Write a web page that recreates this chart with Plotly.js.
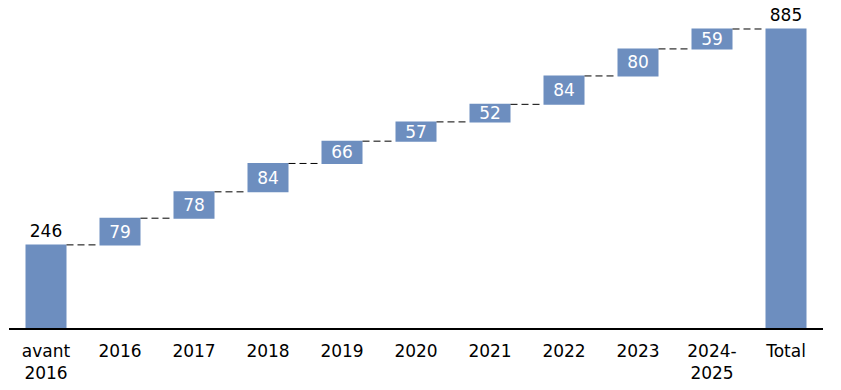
<!DOCTYPE html>
<html>
<head>
<meta charset="utf-8">
<script src="https://cdn.plot.ly/plotly-3.0.1.min.js"></script>
<style>html,body{margin:0;padding:0;background:#fff;}#chart{width:841px;height:390px;}</style>
</head>
<body>
<div id="chart"></div>
<script>
const categories = ["avant<br>2016", "2016", "2017", "2018", "2019", "2020", "2021", "2022", "2023", "2024-<br>2025", "Total"];
const values = [246, 79, 78, 84, 66, 57, 52, 84, 80, 59, 0];
const measures = ["relative", "relative", "relative", "relative", "relative", "relative", "relative", "relative", "relative", "relative", "total"];
const labels = ["246", "79", "78", "84", "66", "57", "52", "84", "80", "59", "885"];
const labelPositions = ["outside", "inside", "inside", "inside", "inside", "inside", "inside", "inside", "inside", "inside", "outside"];

const barColor = "#6d8ebf";
const fontFam = "DejaVu Sans, Liberation Sans, sans-serif";

const trace = {
  type: "waterfall",
  x: categories,
  y: values,
  measure: measures,
  text: labels,
  textposition: labelPositions,
  textinfo: "text",
  textangle: 0,
  constraintext: "none",
  cliponaxis: false,
  insidetextanchor: "middle",
  insidetextfont: {color: "#ffffff", size: 17, family: fontFam},
  outsidetextfont: {color: "#000000", size: 17, family: fontFam},
  increasing: {marker: {color: barColor}},
  decreasing: {marker: {color: barColor}},
  totals: {marker: {color: barColor}},
  connector: {line: {color: "#000000", width: 1, dash: "7px,4px"}},
  hoverinfo: "none"
};

const layout = {
  width: 841,
  height: 390,
  margin: {l: 9, r: 18, t: 10, b: 62},
  paper_bgcolor: "#ffffff",
  plot_bgcolor: "#ffffff",
  showlegend: false,
  waterfallgap: 0.446,
  font: {family: fontFam, size: 17, color: "#000000"},
  xaxis: {
    type: "category",
    showline: true,
    linecolor: "#000000",
    linewidth: 1.5,
    ticks: "outside",
    ticklen: 7,
    tickcolor: "rgba(0,0,0,0)",
    showgrid: false,
    tickfont: {size: 17, color: "#000000", family: fontFam}
  },
  yaxis: {
    range: [0, 941.2],
    visible: false,
    showgrid: false,
    zeroline: false
  }
};

Plotly.newPlot("chart", [trace], layout, {displayModeBar: false, staticPlot: true});
</script>
</body>
</html>
